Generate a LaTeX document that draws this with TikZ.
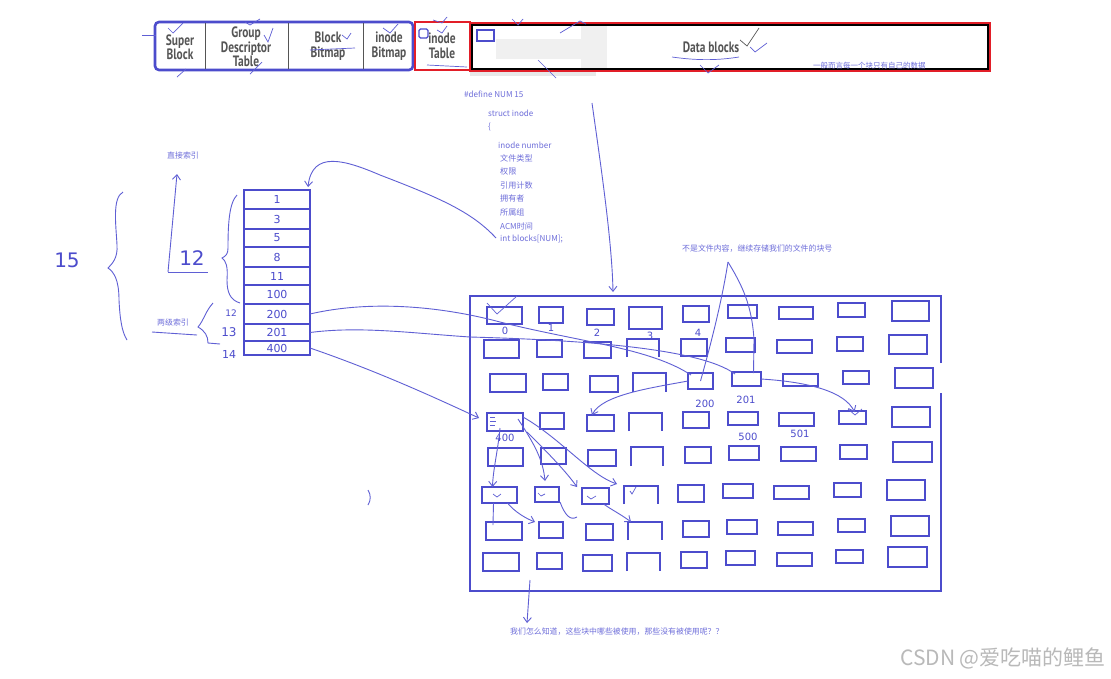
\documentclass[tikz,border=0pt]{standalone}
\usepackage{fontspec}
\setmainfont{Liberation Sans}
\newfontfamily\cjk{Noto Sans CJK SC}
\newfontfamily\barfont[FakeStretch=0.76]{PT Sans Bold}
\newfontfamily\handfont{DejaVu Sans}
\usetikzlibrary{arrows.meta,calc}
\definecolor{boxblue}{RGB}{76,76,204}
\definecolor{lineblue}{RGB}{95,95,212}
\definecolor{textblue}{RGB}{110,110,218}
\definecolor{barred}{RGB}{226,30,40}
\definecolor{bargray}{RGB}{85,85,85}
\tikzset{
  cellbox/.style={draw=boxblue,line width=2.4pt,inner sep=0pt,outer sep=0pt,
     font=\handfont\fontsize{11}{11}\selectfont,text=boxblue},
  cellspace/.style={inner sep=0pt,outer sep=0pt},
  cellline/.style={draw=boxblue,line width=2.4pt},
  conn/.style={draw=lineblue,line width=0.9pt},
  arr/.style={conn,-{Straight Barb[length=5pt,width=8pt]}},
  scrib/.style={draw=lineblue,line width=0.7pt},
  code/.style={anchor=west,inner sep=0pt,text=textblue,font=\cjk\fontsize{8.1}{9}\selectfont},
  note/.style={inner sep=0pt,text=textblue,font=\cjk\fontsize{7.9}{9}\selectfont},
  hand/.style={inner sep=0pt,text=boxblue,font=\handfont\fontsize{10}{10}\selectfont},
  bartext/.style={inner sep=0pt,align=center,text=bargray,font=\barfont\fontsize{15}{14.5}\selectfont}
}
\newcommand\mkcell[6]{\node[cellbox,minimum width={#4-#2},minimum height={#5-#3}] (#1) at ({(#2+#4)/2},{(#3+#5)/2}) {#6};}
\newcommand\mkopen[5]{\node[cellspace,minimum width={#4-#2},minimum height={#5-#3}] (#1) at ({(#2+#4)/2},{(#3+#5)/2}) {};
  \draw[cellline] (#1.south west) -- (#1.north west) -- (#1.north east) -- (#1.south east);}
\begin{document}
\begin{tikzpicture}[x=1pt,y=-1pt]
\useasboundingbox[fill=white] (0,0) rectangle (1111,678);

% ---------- top bar ----------
\fill[gray!25,opacity=0.7] (470,70) rectangle (596,76);
\fill[gray!12] (496,39) rectangle (581,59);
\fill[gray!12] (581,25) rectangle (607,68);
\draw[boxblue,line width=2.6pt,rounded corners=4pt] (155,22) rectangle (413,70);
\draw[bargray,line width=1pt] (205,23) -- (205,69) (288,23) -- (288,69) (363,23) -- (363,69);
\node[bartext] (sb) at (180,47) {Super\\Block};
\node[bartext] (gdt) at (246,47) {Group\\Descriptor\\Table};
\node[bartext] (bb) at (328,46) {Block\\Bitmap};
\node[bartext] (ib) at (389,46) {inode\\Bitmap};
\draw[barred,line width=2.4pt] (415,22) rectangle (470,70);
\node[bartext] (it) at (442,46) {inode\\Table};
\draw[black,line width=1.6pt] (472,25) rectangle (988,69);
\draw[barred,line width=1.8pt] (470,23) rectangle (990,71);
\node[bartext] (db) at (711,47) {Data blocks};
\draw[boxblue,line width=1.8pt] (477,30) rectangle (494,41);
\draw[boxblue,line width=1.2pt,rounded corners=1.5pt] (419,29) rectangle (428,38);
\node[note,anchor=west,font=\cjk\fontsize{7.5}{8}\selectfont] (gen) at (813,66) {一般而言每一个块只有自己的数据};
\draw[barred,line width=1.8pt] (800,71) -- (990,71);

% scribbles on the bar
\draw[scrib] (142,35) -- (156,35);
\draw[scrib] (168,28) -- (173,33) -- (183,23);
\draw[scrib] (177,77) -- (186,69);
\draw[scrib] (245,22) -- (250,25) -- (260,19);
\draw[scrib] (264,35) -- (268,42) -- (273,28);
\draw[scrib] (250,74) -- (262,62);
\draw[scrib] (310,50) -- (355,48);
\draw[scrib] (342,35) -- (347,39) -- (351,33);
\draw[scrib] (383,28) -- (390,33) -- (398,24);
\draw[scrib] (433,20) -- (442,23) -- (447,17);
\draw[scrib] (437,30) -- (442,33) -- (447,26);
\draw[scrib] (427,65) -- (467,67);
\draw[scrib] (512,19) -- (518,25) -- (523,19);
\draw[scrib] (560,33) -- (580,21) -- (586,24);
\draw[scrib] (538,60) -- (556,78);
\draw[gray!70!black,line width=0.7pt] (740,40) -- (747,46) -- (759,28);
\draw[scrib] (750,47) -- (755,52) -- (767,43);
\draw[scrib] (700,65) -- (708,73) -- (719,65);
\draw[scrib] (672,57) .. controls (700,61) and (720,60) .. (739,57);

% ---------- struct text ----------
\node[code] (def) at (464,94) {\#define NUM 15};
\node[code] (st) at (488,113) {struct inode};
\node[code] (br) at (488,127) {\{};
\node[code] (f1) at (498,145) {inode number};
\node[code] (f2) at (500,158) {文件类型};
\node[code] (f3) at (500,171) {权限};
\node[code] (f4) at (500,185) {引用计数};
\node[code] (f5) at (500,198) {拥有者};
\node[code] (f6) at (500,212) {所属组};
\node[code] (f7) at (500,226) {ACM时间};
\node[code] (f8) at (500,239) {int blocks[NUM];};

% ---------- inode block array ----------
\mkcell{a1}{244}{190}{310}{209}{1}
\mkcell{a2}{244}{209}{310}{229}{3}
\mkcell{a3}{244}{229}{310}{247}{5}
\mkcell{a4}{244}{247}{310}{267}{8}
\mkcell{a5}{244}{267}{310}{285}{11}
\mkcell{a6}{244}{285}{310}{304}{100}
\mkcell{a7}{244}{304}{310}{324}{200}
\mkcell{a8}{244}{324}{310}{341}{201}
\mkcell{a9}{244}{341}{310}{355}{400}

% braces and left labels
\draw[conn] (123,192) .. controls (112,198) and (116,225) .. (117,245)
   .. controls (118,258) and (112,264) .. (108,268)
   .. controls (114,272) and (119,280) .. (119,300)
   .. controls (120,320) and (122,332) .. (127,340);
\node[hand,font=\handfont\fontsize{20}{20}\selectfont] (n15) at (67,260) {15};
\draw[conn] (237,195) .. controls (229,203) and (228,225) .. (228,248)
   .. controls (228,254) and (226,256) .. (222,258)
   .. controls (226,261) and (228,266) .. (227,280)
   .. controls (227,292) and (230,300) .. (240,303);
\node[hand,font=\handfont\fontsize{20}{20}\selectfont] (n12) at (192,258) {12};
\coordinate (up1) at (168,272);
\coordinate (up2) at (177,174);
\draw[arr] (up1) -- (up2);
\draw[conn] (168,272) -- (208,272);
\node[note] (direct) at (183,155) {直接索引};
\node[note] (twolvl) at (173,322) {两级索引};
\draw[conn] (152,332) -- (197,335);
\draw[conn] (213,303) .. controls (205,312) and (204,320) .. (198,327)
   .. controls (205,331) and (208,336) .. (208,343) -- (220,344);
\node[hand,font=\handfont\fontsize{9}{9}\selectfont] (i12) at (231,313) {12};
\node[hand,font=\handfont\fontsize{12}{12}\selectfont] (i13) at (229,332) {13};
\node[hand,font=\handfont\fontsize{11}{11}\selectfont] (i14) at (229,354) {14};
\draw[conn] (368,490) .. controls (371,495) and (371,500) .. (368,505);

% ---------- grid of data blocks ----------
\node[cellspace,minimum width=471,minimum height=295] (grid) at (705.5,443.5) {};
\draw[cellline] ($(grid.north east)+(0,67)$) -- (grid.north east) -- (grid.north west)
   -- (grid.south west) -- (grid.south east) -- ($(grid.north east)+(0,97)$);

\mkcell{r1c1}{487}{307}{522}{324}{}
\mkcell{r1c2}{539}{307}{563}{323}{}
\mkcell{r1c3}{587}{309}{614}{325}{}
\mkcell{r1c4}{629}{307}{662}{329}{}
\mkcell{r1c5}{683}{306}{709}{322}{}
\mkcell{r1c6}{728}{305}{757}{318}{}
\mkcell{r1c7}{779}{307}{813}{319}{}
\mkcell{r1c8}{838}{303}{865}{317}{}
\mkcell{r1c9}{892}{301}{929}{321}{}

\mkcell{r2c1}{484}{340}{519}{358}{}
\mkcell{r2c2}{537}{340}{562}{357}{}
\mkcell{r2c3}{584}{342}{611}{358}{}
\mkopen{r2c4}{627}{339}{659}{357}
\mkcell{r2c5}{681}{339}{707}{356}{}
\mkcell{r2c6}{726}{338}{755}{352}{}
\mkcell{r2c7}{777}{340}{812}{353}{}
\mkcell{r2c8}{837}{337}{863}{351}{}
\mkcell{r2c9}{889}{335}{927}{354}{}

\mkcell{r3c1}{490}{374}{526}{392}{}
\mkcell{r3c2}{543}{374}{568}{390}{}
\mkcell{r3c3}{590}{376}{618}{392}{}
\mkopen{r3c4}{633}{373}{666}{392}
\mkcell{r3c5}{688}{373}{713}{389}{}
\mkcell{r3c6}{732}{372}{761}{386}{}
\mkcell{r3c7}{783}{374}{818}{386}{}
\mkcell{r3c8}{843}{371}{869}{384}{}
\mkcell{r3c9}{895}{368}{933}{388}{}

\mkcell{r4c1}{487}{413}{523}{431}{}
\mkcell{r4c2}{540}{413}{564}{429}{}
\mkcell{r4c3}{587}{415}{614}{431}{}
\mkopen{r4c4}{629}{413}{662}{431}
\mkcell{r4c5}{683}{412}{709}{428}{}
\mkcell{r4c6}{728}{412}{758}{425}{}
\mkcell{r4c7}{779}{413}{814}{426}{}
\mkcell{r4c8}{839}{411}{866}{424}{}
\mkcell{r4c9}{892}{407}{930}{427}{}

\mkcell{r5c1}{488}{448}{523}{466}{}
\mkcell{r5c2}{541}{448}{566}{464}{}
\mkcell{r5c3}{588}{450}{616}{466}{}
\mkopen{r5c4}{631}{447}{663}{466}
\mkcell{r5c5}{685}{447}{711}{463}{}
\mkcell{r5c6}{729}{446}{759}{460}{}
\mkcell{r5c7}{781}{447}{816}{461}{}
\mkcell{r5c8}{840}{445}{867}{459}{}
\mkcell{r5c9}{893}{442}{932}{462}{}

\mkcell{r6c1}{482}{487}{517}{503}{}
\mkcell{r6c2}{535}{487}{559}{502}{}
\mkcell{r6c3}{582}{488}{609}{504}{}
\mkopen{r6c4}{624}{486}{658}{504}
\mkcell{r6c5}{678}{485}{704}{502}{}
\mkcell{r6c6}{723}{484}{753}{498}{}
\mkcell{r6c7}{774}{486}{809}{499}{}
\mkcell{r6c8}{834}{483}{861}{497}{}
\mkcell{r6c9}{887}{480}{925}{500}{}

\mkcell{r7c1}{486}{522}{522}{540}{}
\mkcell{r7c2}{539}{522}{563}{538}{}
\mkcell{r7c3}{586}{524}{613}{540}{}
\mkopen{r7c4}{628}{522}{662}{540}
\mkcell{r7c5}{683}{521}{709}{537}{}
\mkcell{r7c6}{727}{520}{757}{534}{}
\mkcell{r7c7}{778}{522}{813}{535}{}
\mkcell{r7c8}{838}{519}{865}{532}{}
\mkcell{r7c9}{891}{516}{929}{536}{}

\mkcell{r8c1}{483}{553}{519}{571}{}
\mkcell{r8c2}{537}{553}{562}{569}{}
\mkcell{r8c3}{583}{555}{612}{571}{}
\mkopen{r8c4}{627}{553}{660}{571}
\mkcell{r8c5}{681}{552}{707}{568}{}
\mkcell{r8c6}{726}{551}{755}{565}{}
\mkcell{r8c7}{777}{553}{812}{566}{}
\mkcell{r8c8}{836}{550}{863}{563}{}
\mkcell{r8c9}{888}{547}{927}{567}{}

% hand-written block numbers
\node[hand] (l0) at (505,331) {0};
\node[hand] (l1) at (551,328) {1};
\node[hand] (l2) at (597,333) {2};
\node[hand] (l3) at (650,336) {3};
\node[hand] (l4) at (698,333) {4};
\node[hand] (l200) at (705,404) {200};
\node[hand] (l201) at (746,400) {201};
\node[hand] (l500) at (748,437) {500};
\node[hand] (l501) at (800,434) {501};
\node[hand] (l400) at (505,438) {400};

% small marks
\draw[scrib] (487,303) -- (497,314) -- (517,296);
\draw[scrib] (490,417) -- (495,417) (490,421) -- (496,421) (490,425) -- (495,425);
\draw[scrib] (848,409) -- (855,415) -- (862,409);
\draw[scrib] (493,494) -- (497,497) -- (501,494);
\draw[scrib] (538,493) -- (541,496) -- (545,494);
\draw[scrib] (587,496) -- (591,499) -- (596,496);
\draw[scrib] (630,491) -- (632,494) -- (636,487);

% notes
\node[note,anchor=west] (note1) at (682,249) {不是文件内容，继续存储我们的文件的块号};
\node[note,anchor=west] (q) at (510,632) {我们怎么知道，这些块中哪些被使用，那些没有被使用呢？？};
\node[inner sep=0pt,text=gray!55,font=\cjk\fontsize{21}{21}\selectfont,anchor=east] (wm) at (1106,658) {CSDN @爱吃喵的鲤鱼};

% ---------- connectors ----------
\coordinate (blk) at (496,238);
\draw[arr] (blk) .. controls (472,212) and (440,198) .. (380,175)
   .. controls (345,160) and (312,150) .. ($(a1.north east)+(-2,-3)$);
\coordinate (dbsrc) at (592,103);
\coordinate (gtop) at (613,292);
\draw[arr] (dbsrc) .. controls (600,160) and (612,240) .. (gtop);
\draw[conn] (a7.east) .. controls (370,300) and (440,306) .. (500,322)
   .. controls (580,342) and (650,348) .. ($(r3c5.north west)+(3,2)$);
\draw[conn] (a8.east) .. controls (360,326) and (410,333) .. (470,337)
   .. controls (580,340) and (700,348) .. ($(r3c6.north west)+(3,2)$);
\draw[arr] (a9.east) .. controls (380,372) and (440,400) .. ($(r4c1.west)+(-8,-4)$);
\coordinate (ntip) at (728,262);
\draw[conn] (ntip) .. controls (722,300) and (712,340) .. (r3c5.center);
\draw[conn] (ntip) .. controls (742,285) and (752,305) .. (754,340) -- ($(r3c6.north)+(7,1)$);
\draw[arr] (r3c5.west) .. controls (650,388) and (602,395) .. ($(r4c3.north west)+(5,0)$);
\draw[arr] (r3c6.east) .. controls (810,382) and (845,392) .. ($(r4c8.north)+(2,1)$);
\draw[arr] ($(r4c1.south)+(-5,-3)$) .. controls (498,450) and (493,470) .. ($(r6c1.north)+(-7,0)$);
\draw[arr] ($(r4c1.east)+(-5,-3)$) .. controls (535,445) and (543,460) .. ($(r6c2.north)+(-2,-6)$);
\draw[arr] ($(r4c1.south east)+(4,1)$) .. controls (545,450) and (565,470) .. ($(r6c3.north west)+(-5,-1)$);
\draw[arr] ($(r4c1.east)+(0,-5)$) .. controls (560,438) and (590,475) .. ($(r6c4.north west)+(-7,-2)$);
\draw[conn] ($(r6c1.south)+(-6,0)$) -- ($(r7c1.north)+(-11,3)$);
\draw[arr] ($(r6c1.south)+(8,0)$) .. controls (515,512) and (525,518) .. ($(r7c2.north west)+(-4,0)$);
\draw[conn] ($(r6c2.south east)+(1,0)$) .. controls (565,515) and (570,521) .. (577,517);
\draw[arr] ($(r6c3.south)+(8,0)$) .. controls (612,510) and (622,515) .. ($(r7c4.north west)+(3,0)$);
\coordinate (gbot) at (530,580);
\draw[arr] (gbot) -- ($(q.north west)+(17,-5)$);
\end{tikzpicture}
\end{document}
